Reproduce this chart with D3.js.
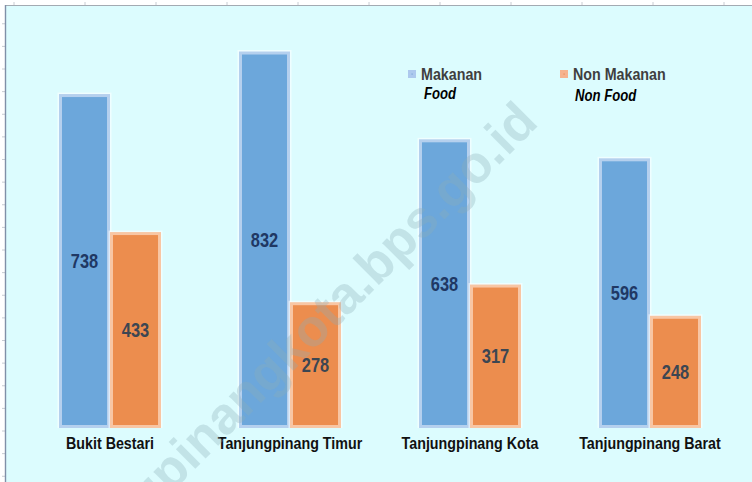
<!DOCTYPE html>
<html>
<head>
<meta charset="utf-8">
<script src="https://cdn.jsdelivr.net/npm/d3@7/dist/d3.min.js"></script>
<style>
  html, body { margin: 0; padding: 0; background: #ffffff; }
  svg { display: block; }
  .narrow { font-family: "Liberation Sans", Arial, sans-serif; font-weight: bold; }
</style>
</head>
<body>
<svg id="chart" width="752" height="482"></svg>
<script>
const categories = ["Bukit Bestari", "Tanjungpinang Timur", "Tanjungpinang Kota", "Tanjungpinang Barat"];
const seriesNames = ["Makanan", "Non Makanan"];
const seriesSubtitles = ["Food", "Non Food"];
const makanan = [738, 832, 638, 596];
const nonMakanan = [433, 278, 317, 248];
const watermark = "tanjungpinangkota.bps.go.id";

const W = 752, H = 482;
const svg = d3.select("#chart");

const fills = ["#6CA7DB", "#EC8D4E"];
const borders = ["#B5D0EE", "#F8C6A4"];
const labelColors = ["#1F3864", "#3C4652"];
const markerFills = ["#ADC9EE", "#F6B28E"];
const markerDots = ["#7EA6D8", "#E8895A"];
const NARROW = 0.82;

// condense a text selection horizontally (Arial Narrow look-alike)
function condense(sel) {
  sel.each(function () {
    const len = this.getComputedTextLength();
    d3.select(this).attr("textLength", len * NARROW).attr("lengthAdjust", "spacingAndGlyphs");
  });
}

// background panel
svg.append("rect").attr("x", 0).attr("y", 0).attr("width", W).attr("height", H).attr("fill", "#ffffff");
svg.append("rect").attr("x", 5).attr("y", 5).attr("width", W).attr("height", H).attr("fill", "#DCFCFE");

// scales
const x0 = d3.scaleBand().domain(categories).range([20, 740]).paddingInner(0.4333).paddingOuter(0.2167);
const x1 = d3.scaleBand().domain(seriesNames).range([0, x0.bandwidth()]);
const y = d3.scaleLinear().domain([0, 900]).range([428, 428 - 0.4525 * 900]);

// decorative frame ticks
const leftTicks = d3.range(-150, 951, 50).filter(d => y(d) + 3 > 10 && y(d) + 3 < 480);
svg.append("g").selectAll("line").data(leftTicks).join("line")
  .attr("x1", 2).attr("x2", 5)
  .attr("y1", d => y(d) + 3).attr("y2", d => y(d) + 3)
  .attr("stroke", "#C8CCD2").attr("stroke-width", 1);

const topScale = d3.scaleLinear().domain([0, 10]).range([14, 724]);
svg.append("g").selectAll("line").data(d3.range(0, 11)).join("line")
  .attr("x1", d => topScale(d)).attr("x2", d => topScale(d))
  .attr("y1", 2).attr("y2", 5)
  .attr("stroke", "#C8CCD2").attr("stroke-width", 1);

// frame lines
svg.append("line").attr("x1", 5).attr("x2", W).attr("y1", 5.5).attr("y2", 5.5)
  .attr("stroke", "#A3AAB2").attr("stroke-width", 1.2);
svg.append("line").attr("x1", 5.5).attr("x2", 5.5).attr("y1", 5).attr("y2", H)
  .attr("stroke", "#8090A8").attr("stroke-width", 1.4);

// bars
const rows = categories.map((c, i) => ({ cat: c, vals: [makanan[i], nonMakanan[i]] }));
const groups = svg.append("g").selectAll("g").data(rows).join("g")
  .attr("transform", d => `translate(${x0(d.cat)},0)`);

const bars = groups.selectAll("g.bar").data(d => d.vals.map((v, k) => ({ v, k, name: seriesNames[k] })))
  .join("g").attr("class", "bar");

bars.append("rect")
  .attr("x", d => x1(d.name) - 1.5)
  .attr("y", d => y(d.v) - 1.5)
  .attr("width", x1.bandwidth() + 3)
  .attr("height", d => y(0) - y(d.v) + 1.5)
  .attr("fill", "#ffffff").attr("fill-opacity", 0.55);

bars.append("rect")
  .attr("x", d => x1(d.name) + 1.5)
  .attr("y", d => y(d.v) + 1.5)
  .attr("width", x1.bandwidth() - 3)
  .attr("height", d => y(0) - y(d.v) - 3)
  .attr("fill", d => fills[d.k])
  .attr("stroke", d => borders[d.k])
  .attr("stroke-width", 3);

bars.append("text")
  .attr("class", "narrow")
  .attr("x", d => x1(d.name) + x1.bandwidth() / 2)
  .attr("y", d => (y(d.v) + y(0)) / 2)
  .attr("dy", "0.36em")
  .attr("text-anchor", "middle")
  .attr("font-size", 20)
  .attr("fill", d => labelColors[d.k])
  .text(d => d.v)
  .call(condense);

// category labels
svg.append("g").selectAll("text").data(categories).join("text")
  .attr("class", "narrow")
  .attr("x", d => x0(d) + x0.bandwidth() / 2)
  .attr("y", 449)
  .attr("text-anchor", "middle")
  .attr("font-size", 17.4)
  .attr("fill", "#111111")
  .text(d => d)
  .call(condense);

// legend
const legendX = d3.scaleOrdinal().domain(seriesNames).range([408, 560]);
const leg = svg.append("g").selectAll("g").data(seriesNames).join("g")
  .attr("transform", d => `translate(${legendX(d)},0)`);
leg.append("rect").attr("x", 0).attr("y", 70).attr("width", 8).attr("height", 8)
  .attr("fill", (d, i) => markerFills[i]);
leg.append("rect").attr("x", 3.5).attr("y", 73.5).attr("width", 1.2).attr("height", 1.2)
  .attr("fill", (d, i) => markerDots[i]);
leg.append("text").attr("class", "narrow")
  .attr("x", 13).attr("y", 80)
  .attr("font-size", 17.4).attr("fill", "#3F3F3F")
  .text(d => d)
  .call(condense);
leg.append("text").attr("class", "narrow")
  .attr("x", (d, i) => i === 0 ? 16 : 15).attr("y", (d, i) => i === 0 ? 99 : 101)
  .attr("font-size", 16).attr("font-style", "italic").attr("fill", "#000000")
  .text((d, i) => seriesSubtitles[i])
  .call(condense);

// watermark (on top)
svg.append("text")
  .attr("transform", "translate(540,124) rotate(-45)")
  .attr("text-anchor", "end")
  .attr("font-family", "Liberation Sans, Arial, sans-serif")
  .attr("font-weight", "bold")
  .attr("font-size", 52)
  .attr("fill", "#8DAEB6")
  .attr("fill-opacity", 0.32)
  .text(watermark);
</script>
</body>
</html>
